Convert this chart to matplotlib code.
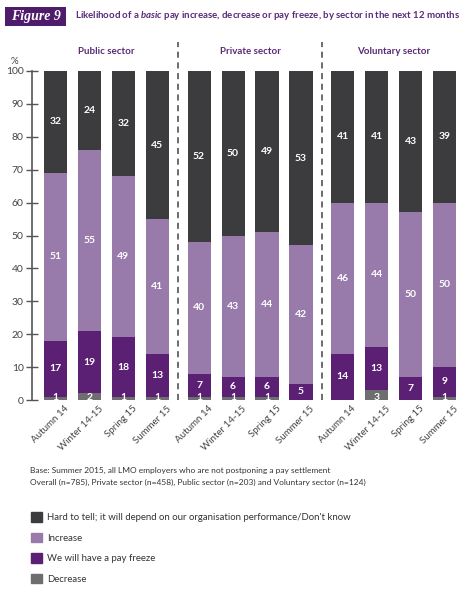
import numpy as np
import matplotlib
matplotlib.use("Agg")
import matplotlib.pyplot as plt
import matplotlib.transforms as mtrans
from matplotlib.patches import Patch, Rectangle

plt.rcParams['font.family'] = ['Lato', 'DejaVu Sans']
plt.rcParams['mathtext.fontset'] = 'custom'
plt.rcParams['mathtext.it'] = 'Lato:italic:bold'
plt.rcParams['mathtext.rm'] = 'Lato:bold'

# ---- data ----
sectors = ["Public sector", "Private sector", "Voluntary sector"]
periods = ["Autumn 14", "Winter 14-15", "Spring 15", "Summer 15"]

# order: public (4), private (4), voluntary (4)
decrease = [1, 2, 1, 1, 1, 1, 1, 0, 0, 3, 0, 1]
freeze = [17, 19, 18, 13, 7, 6, 6, 5, 14, 13, 7, 9]
increase = [51, 55, 49, 41, 40, 43, 44, 42, 46, 44, 50, 50]
hard = [32, 24, 32, 45, 52, 50, 49, 53, 41, 41, 43, 39]

series_names = ["Hard to tell; it will depend on our organisation performance/Don't know",
                "Increase", "We will have a pay freeze", "Decrease"]

C_HARD = "#3c3b3d"
C_INC = "#987bab"
C_FRZ = "#5b1f73"
C_DEC = "#6e6e70"
PURPLE = "#5a2a78"

W, H = 468, 590
fig = plt.figure(figsize=(W / 100, H / 100), dpi=100)
ax = fig.add_axes([32 / W, 1 - 400 / H, 430 / W, 329 / H])

x = np.concatenate([np.arange(4) + g * 4.225 for g in range(3)])
bw = 0.68

dec = np.array(decrease)
frz = np.array(freeze)
inc = np.array(increase)
hrd = np.array(hard)

b1 = dec
b2 = b1 + frz
b3 = b2 + inc
ax.bar(x, dec, bw, color=C_DEC)
ax.bar(x, frz, bw, bottom=b1, color=C_FRZ)
ax.bar(x, inc, bw, bottom=b2, color=C_INC)
ax.bar(x, 100 - b3, bw, bottom=b3, color=C_HARD)

lab_kw = dict(ha="center", va="center", color="white", fontsize=7.5, fontweight="bold")
for i in range(len(x)):
    if dec[i] > 0:
        ax.text(x[i], 0.9, str(dec[i]), **lab_kw)
    ax.text(x[i], b1[i] + frz[i] / 2, str(frz[i]), **lab_kw)
    ax.text(x[i], b2[i] + inc[i] / 2, str(inc[i]), **lab_kw)
    ax.text(x[i], (b3[i] + 100) / 2, str(hrd[i]), **lab_kw)

ax.set_xlim(-0.69, 11.96)
ax.set_ylim(0, 100)
ax.set_yticks(range(0, 101, 10))
ax.tick_params(axis="y", direction="inout", length=8, width=1, colors="#555555",
               labelsize=7.5, labelcolor="#444444", pad=2)
for s in ["top", "right", "bottom"]:
    ax.spines[s].set_visible(False)
ax.spines["left"].set_color("#555555")
ax.spines["left"].set_linewidth(1.2)

ax.set_xticks(x)
ax.set_xticklabels(periods * 3, rotation=45, ha="right", va="top",
                   rotation_mode="anchor", fontsize=7, color="#444444")
ax.tick_params(axis="x", length=0, pad=3)
off = mtrans.ScaledTranslation(9 / 100, 0, fig.dpi_scale_trans)
for t in ax.get_xticklabels():
    t.set_transform(t.get_transform() + off)

# dashed separators
for xs in [(3 + 4.225) / 2, (7.225 + 8.45) / 2]:
    ax.plot([xs, xs], [0, 108.8], color="#444444", lw=1.1, ls=(0, (4, 3)), clip_on=False)

# sector headers
for g, name in enumerate(sectors):
    ax.text(1.5 + g * 4.225, 106, name, ha="center", va="center", fontsize=7,
            fontweight="bold", color=PURPLE)

fig.text(14 / W, 1 - 62 / H, "%", ha="center", va="center", fontsize=7, color="#444444")

# title badge
fig.patches.append(Rectangle((5 / W, 1 - 26 / H), 61 / W, 19 / H, transform=fig.transFigure,
                             facecolor="#4e1c6b", edgecolor="none"))
fig.text(35.5 / W, 1 - 16.5 / H, "Figure 9", ha="center", va="center", fontsize=10,
         fontweight="bold", style="italic", family="Liberation Serif", color="white")
fig.text(75 / W, 1 - 16 / H,
         "Likelihood of a $basic$ pay increase, decrease or pay freeze, by sector in the next 12 months",
         ha="left", va="center", fontsize=6.9, fontweight="bold", color=PURPLE)

# footnote
fig.text(30 / W, 1 - 470 / H, "Base: Summer 2015, all LMO employers who are not postponing a pay settlement",
         ha="left", va="center", fontsize=6.0, color="#333333")
fig.text(30 / W, 1 - 482 / H,
         "Overall (n=785), Private sector (n=458), Public sector (n=203) and Voluntary sector (n=124)",
         ha="left", va="center", fontsize=6.0, color="#333333")

handles = [Patch(color=c) for c in [C_HARD, C_INC, C_FRZ, C_DEC]]
fig.legend(handles, series_names, loc="upper left", bbox_to_anchor=(31 / W, 1 - 512 / H),
           frameon=False, fontsize=6.9, handlelength=1.15, handleheight=1.15,
           labelspacing=1.1, handletextpad=0.5, borderpad=0, borderaxespad=0,
           labelcolor="#333333")

fig.savefig("out.png", dpi=100)
